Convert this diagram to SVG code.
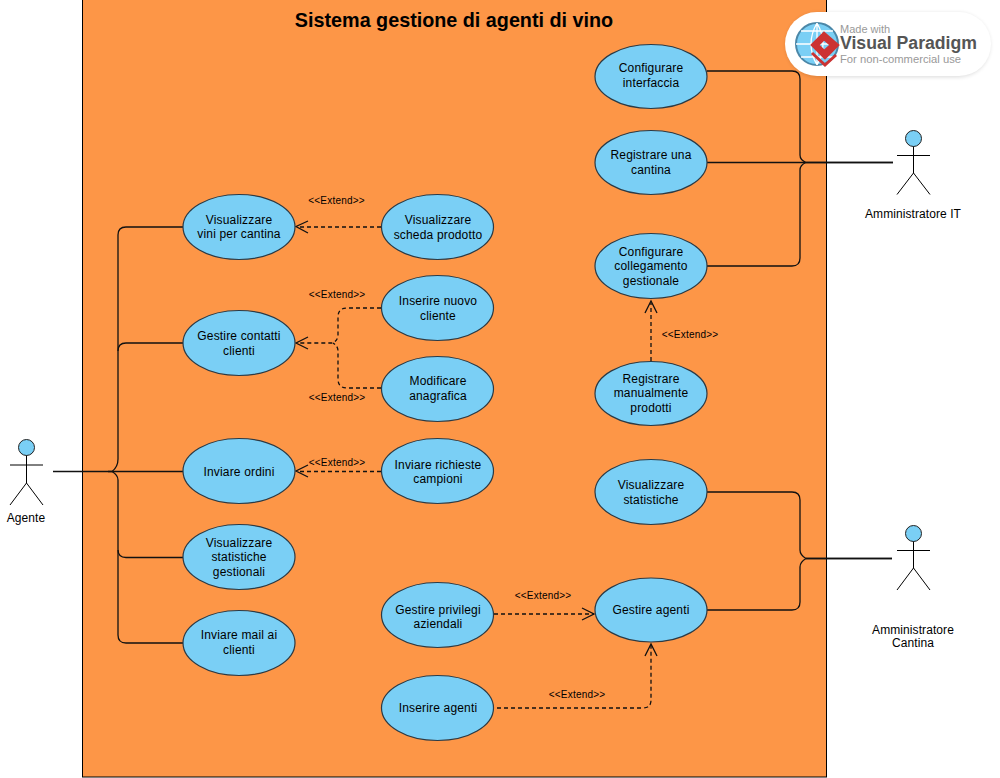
<svg xmlns="http://www.w3.org/2000/svg" width="1000" height="778" viewBox="0 0 1000 778">
<style>
text{font-family:"Liberation Sans",Arial,sans-serif;fill:#000}
.u ellipse{fill:#7acff5;stroke:#2b3a45;stroke-width:1.2}
.u text{font-size:12px;text-anchor:middle;letter-spacing:.17px}
.a circle{fill:#7acff5;stroke:#222;stroke-width:1}
.a path{fill:none;stroke:#000;stroke-width:1}
.a text{font-size:12px;text-anchor:middle;letter-spacing:.08px}
.s{fill:none;stroke:#111;stroke-width:1.3}
.d{fill:none;stroke:#111;stroke-width:1.3;stroke-dasharray:4 3}
.h{fill:none;stroke:#111;stroke-width:1.3}
.l{font-size:10px;text-anchor:middle;letter-spacing:.2px}
.w1{font-size:11px;fill:#999}
.w2{font-size:17.500px;font-weight:bold;fill:#555}
</style>
<defs>
<filter id="sh" x="-10%" y="-20%" width="120%" height="140%"><feGaussianBlur stdDeviation="2"/></filter>
</defs>
<rect id="system" x="82.500" y="-1" width="744" height="778" fill="#fd9647" stroke="#000" stroke-width="1"/>
<text id="title" x="454" y="27" font-size="19.750" font-weight="bold" text-anchor="middle">Sistema gestione di agenti di vino</text>

<g id="connectors">
<path class="s" d="M53 471.500H183"/>
<path class="s" d="M183 227H126Q118 227 118 235V459Q118 467 112 471.500H108"/>
<path class="s" d="M183 343H126Q118 343 118 351"/>
<path class="s" d="M183 557.500H126Q118 557.500 118 549.500V480Q118 475 112 471.500"/>
<path class="s" d="M183 643H126Q118 643 118 635V550"/>
<path class="s" d="M707 71H792Q800 71 800 79V155Q800 160 806 162.500"/>
<path class="s" d="M707 162.500H893" stroke-width="1.500"/>
<path class="s" d="M707 266H792Q800 266 800 258V170Q800 165 806 162.500"/>
<path class="s" d="M806 162.500H893" stroke-width="2"/>
<path class="s" d="M707 492H792Q800 492 800 500V550Q800 555 806 558.500H892" stroke-width="1.300"/>
<path class="s" d="M707 610H792Q800 610 800 602V567Q800 562 806 558.500"/>
<path class="s" d="M806 558.500H892" stroke-width="2"/>
<path class="d" d="M381 227H297"/>
<path class="h" d="M308 221L296 226.500L308 233"/>
<path class="d" d="M381 308H347Q338 308 338 317V335Q338 340 333 343H297" stroke-width="1.600"/>
<path class="d" d="M381 388H347Q338 388 338 379V351Q338 346 333 343" stroke-width="1.600"/>
<path class="h" d="M308 337L296 343L308 349"/>
<path class="d" d="M381 471.500H297"/>
<path class="h" d="M308 465L296 471L308 477"/>
<path class="d" d="M651 361V303"/>
<path class="h" d="M645 313L651 301L657 313"/>
<path class="d" d="M494 614H594"/>
<path class="h" d="M582 608L594 614L582 620"/>
<path class="d" d="M497 708H643Q651 708 651 700V645"/>
<path class="h" d="M645 656L651 644L657 656"/>
<text class="l" x="336.500" y="204">&lt;&lt;Extend&gt;&gt;</text>
<text class="l" x="337" y="298">&lt;&lt;Extend&gt;&gt;</text>
<text class="l" x="337" y="401">&lt;&lt;Extend&gt;&gt;</text>
<text class="l" x="337" y="466">&lt;&lt;Extend&gt;&gt;</text>
<text class="l" x="690" y="338">&lt;&lt;Extend&gt;&gt;</text>
<text class="l" x="543" y="599">&lt;&lt;Extend&gt;&gt;</text>
<text class="l" x="577" y="698">&lt;&lt;Extend&gt;&gt;</text>
</g>

<g id="uc1" class="u"><ellipse cx="239" cy="227" rx="56" ry="32.500"/><text x="239" y="224">Visualizzare</text><text x="239" y="238">vini per cantina</text></g>
<g id="uc2" class="u"><ellipse cx="239" cy="343" rx="56" ry="32.500"/><text x="239" y="340">Gestire contatti</text><text x="239" y="355">clienti</text></g>
<g id="uc3" class="u"><ellipse cx="239" cy="471" rx="56" ry="32.500"/><text x="239" y="476">Inviare ordini</text></g>
<g id="uc4" class="u"><ellipse cx="239" cy="557" rx="56" ry="32.500"/><text x="239" y="547">Visualizzare</text><text x="239" y="561">statistiche</text><text x="239" y="576">gestionali</text></g>
<g id="uc5" class="u"><ellipse cx="239" cy="643" rx="56" ry="32.500"/><text x="239" y="639">Inviare mail ai</text><text x="239" y="654">clienti</text></g>
<g id="uc6" class="u"><ellipse cx="437.500" cy="227" rx="56" ry="32.500"/><text x="438" y="224">Visualizzare</text><text x="438" y="239">scheda prodotto</text></g>
<g id="uc7" class="u"><ellipse cx="437.500" cy="308" rx="56" ry="32.500"/><text x="438" y="305">Inserire nuovo</text><text x="438" y="320">cliente</text></g>
<g id="uc8" class="u"><ellipse cx="437.500" cy="389" rx="56" ry="32.500"/><text x="438" y="385">Modificare</text><text x="438" y="400">anagrafica</text></g>
<g id="uc9" class="u"><ellipse cx="437.500" cy="471" rx="56" ry="32.500"/><text x="438" y="469">Inviare richieste</text><text x="438" y="483">campioni</text></g>
<g id="uc10" class="u"><ellipse cx="437.500" cy="615" rx="56" ry="32.500"/><text x="438" y="614">Gestire privilegi</text><text x="438" y="628">aziendali</text></g>
<g id="uc11" class="u"><ellipse cx="437.500" cy="708" rx="56" ry="32.500"/><text x="438" y="712">Inserire agenti</text></g>
<g id="uc12" class="u"><ellipse cx="651" cy="76.500" rx="56" ry="32"/><text x="651" y="72">Configurare</text><text x="651" y="87">interfaccia</text></g>
<g id="uc13" class="u"><ellipse cx="651" cy="162.500" rx="56" ry="32"/><text x="651" y="159">Registrare una</text><text x="651" y="174">cantina</text></g>
<g id="uc14" class="u"><ellipse cx="651" cy="266" rx="56" ry="32.500"/><text x="651" y="256">Configurare</text><text x="651" y="270">collegamento</text><text x="651" y="285">gestionale</text></g>
<g id="uc15" class="u"><ellipse cx="651" cy="393.500" rx="56" ry="32"/><text x="651" y="383">Registrare</text><text x="651" y="397">manualmente</text><text x="651" y="412">prodotti</text></g>
<g id="uc16" class="u"><ellipse cx="651" cy="492" rx="56" ry="32.500"/><text x="651" y="489">Visualizzare</text><text x="651" y="504">statistiche</text></g>
<g id="uc17" class="u"><ellipse cx="651" cy="610" rx="56" ry="32"/><text x="651" y="614">Gestire agenti</text></g>

<g id="actor-agente" class="a"><circle cx="26.500" cy="447.500" r="8"/><path d="M26.500 455.500V483M10 465H43M26.500 483L10 505M26.500 483L43 505"/><text x="26" y="522">Agente</text></g>
<g id="actor-it" class="a"><circle cx="913.500" cy="138.500" r="8"/><path d="M913.500 146.500V173M897 155.500H930M913.500 173L897 194.500M913.500 173L930 194.500"/><text x="913" y="218">Amministratore IT</text></g>
<g id="actor-cantina" class="a"><circle cx="913.500" cy="533.500" r="8"/><path d="M913.500 541.500V568M897 550.500H930M913.500 568L897 590M913.500 568L930 590"/><text x="913" y="634">Amministratore</text><text x="913" y="647">Cantina</text></g>

<g id="watermark">
<rect x="786" y="13" width="204" height="64" rx="32" fill="#000" opacity=".15" filter="url(#sh)"/>
<rect x="785" y="12" width="206" height="64" rx="32" fill="#fff"/>
<circle cx="817" cy="44" r="21" fill="#7acff5" stroke="#4b87a8" stroke-width="2"/>
<path d="M796 44H838M817 23V65M801 31H833M801 57H833M817 23Q805 44 817 65M817 23Q829 44 817 65" fill="none" stroke="#fff" stroke-width="1.300"/>
<path d="M812 45L824 33L838 45L825 58L821 54L831 45L824 39L818 45L825 52L821 54L825 58Z" fill="#cc3333" stroke="#cc3333" stroke-width="2.500"/>
<path d="M812 53L825 65L836 55" fill="none" stroke="#cc3333" stroke-width="3"/>
<text class="w1" x="840" y="33">Made with</text>
<text class="w2" x="840" y="49" textLength="137" lengthAdjust="spacingAndGlyphs">Visual Paradigm</text>
<text class="w1" x="840" y="63" textLength="121" lengthAdjust="spacingAndGlyphs">For non-commercial use</text>
</g>
</svg>
